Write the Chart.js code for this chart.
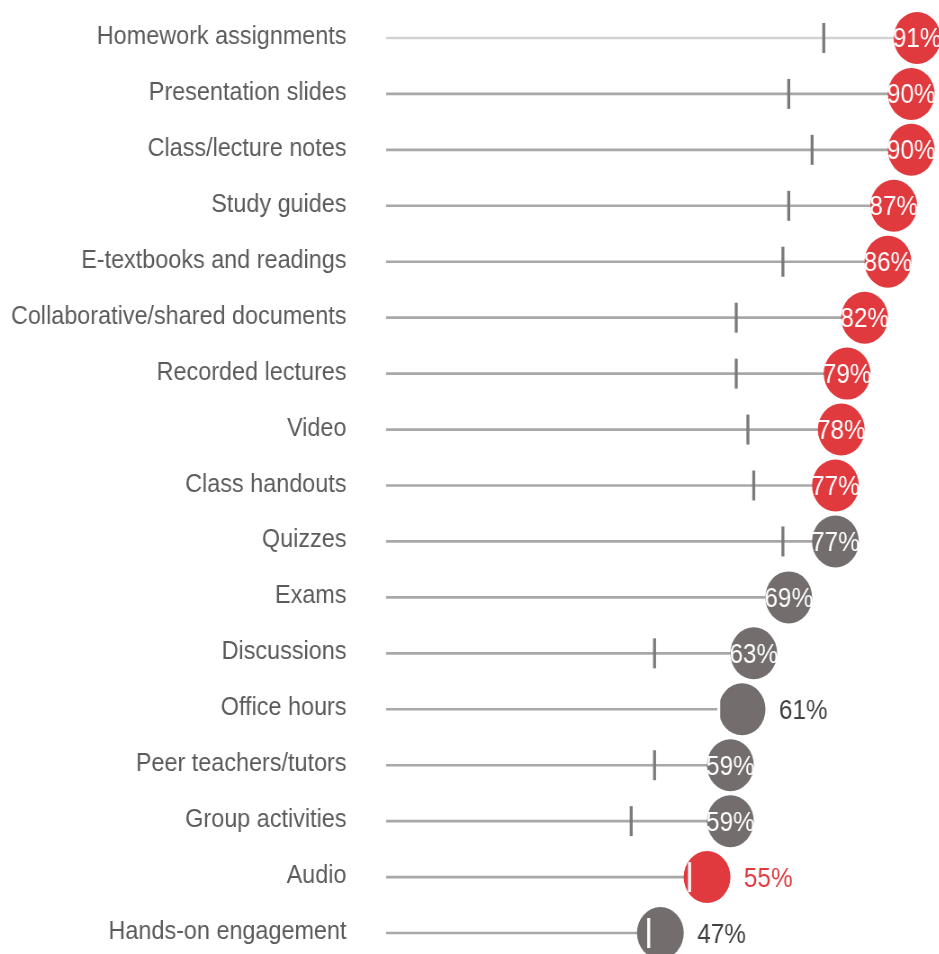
<!DOCTYPE html>
<html>
<head>
<meta charset="utf-8">
<script src="https://cdn.jsdelivr.net/npm/chart.js@4.4.0/dist/chart.umd.min.js"></script>
<style>
  html, body { margin: 0; padding: 0; background: #fff; overflow: hidden; }
  #chart { display: block; transform: scaleX(0.9); transform-origin: 0 0; }
</style>
</head>
<body>
<canvas id="chart" width="1043" height="975"></canvas>
<script>
// resources used, share of respondents (%)
const categories = [
    "Homework assignments",
    "Presentation slides",
    "Class/lecture notes",
    "Study guides",
    "E-textbooks and readings",
    "Collaborative/shared documents",
    "Recorded lectures",
    "Video",
    "Class handouts",
    "Quizzes",
    "Exams",
    "Discussions",
    "Office hours",
    "Peer teachers/tutors",
    "Group activities",
    "Audio",
    "Hands-on engagement",
];
const values = [91, 90, 90, 87, 86, 82, 79, 78, 77, 77, 69, 63, 61, 59, 59, 55, 47];
// comparison marker for each row (none shown for Exams)
const comparison = [75, 69, 73, 69, 68, 60, 60, 62, 63, 68, null, 46, 57, 46, 42, 52, 45];
const highlighted = [
    "Homework assignments",
    "Presentation slides",
    "Class/lecture notes",
    "Study guides",
    "E-textbooks and readings",
    "Collaborative/shared documents",
    "Recorded lectures",
    "Video",
    "Class handouts",
    "Audio",
];

var RED = "#e03a3f";
var GREY = "#736e6d";
var DOT_R = 26;

var dotColors = categories.map(function (c) {
    return highlighted.indexOf(c) >= 0 ? RED : GREY;
});

// is the comparison marker hidden under the dot?
function markerInDot(i, chart) {
    if (comparison[i] === null) return false;
    var x = chart.scales.x;
    return Math.abs(x.getPixelForValue(comparison[i]) - x.getPixelForValue(values[i])) <= DOT_R + 1;
}

const labelPlugin = {
    id: "rowLabels",
    afterDatasetsDraw: function (chart) {
        var ctx = chart.ctx;
        var xs = chart.scales.x;
        var ys = chart.scales.y;
        ctx.save();
        ctx.textBaseline = "alphabetic";
        categories.forEach(function (name, i) {
            var y = ys.getPixelForValue(i);
            ctx.font = '26px "Liberation Sans", Arial, sans-serif';
            ctx.textAlign = "right";
            ctx.fillStyle = "#5b5b5b";
            ctx.fillText(name, chart.chartArea.left - 44, y + 6);

            var cx = xs.getPixelForValue(values[i]);
            var txt = values[i] + "%";
            ctx.font = '27px "Liberation Sans", Arial, sans-serif';
            if (markerInDot(i, chart)) {
                ctx.textAlign = "left";
                ctx.fillStyle = dotColors[i] === RED ? RED : "#404040";
                ctx.fillText(txt, cx + DOT_R + 15, y + 9.5);
            } else {
                ctx.textAlign = "center";
                ctx.fillStyle = "#ffffff";
                ctx.fillText(txt, cx, y + 9.5);
            }
        });
        ctx.restore();
    },
};

var ctx = document.getElementById("chart").getContext("2d");
var chart = new Chart(ctx, {
    type: "bar",
    data: {
        labels: categories,
        datasets: [
            {
                type: "line",
                data: comparison,
                showLine: false,
                pointStyle: "line",
                rotation: 90,
                pointRadius: 15,
                pointBorderWidth: 3.3,
                pointBorderColor: function (c) {
                    return markerInDot(c.dataIndex, c.chart) ? "#ffffff" : "#7a7a7a";
                },
                clip: false,
                order: 1,
            },
            {
                type: "line",
                data: values,
                showLine: false,
                pointStyle: "circle",
                pointRadius: DOT_R,
                pointBorderWidth: 0,
                pointBackgroundColor: dotColors,
                clip: false,
                order: 2,
            },
            {
                data: values,
                barThickness: 2,
                backgroundColor: categories.map(function (c, i) {
                    return i === 0 ? "#d2d2d2" : "#a8a8a8";
                }),
                order: 3,
            },
        ],
    },
    options: {
        indexAxis: "y",
        responsive: false,
        animation: false,
        devicePixelRatio: 1,
        layout: {
            autoPadding: false,
            padding: { left: 429, right: 0, top: 10, bottom: 14 },
        },
        scales: {
            x: { type: "linear", min: 0, max: 94.7, display: false },
            y: { type: "category", offset: true, display: false },
        },
        plugins: {
            legend: { display: false },
            tooltip: { enabled: false },
        },
    },
    plugins: [labelPlugin],
});
</script>
</body>
</html>
